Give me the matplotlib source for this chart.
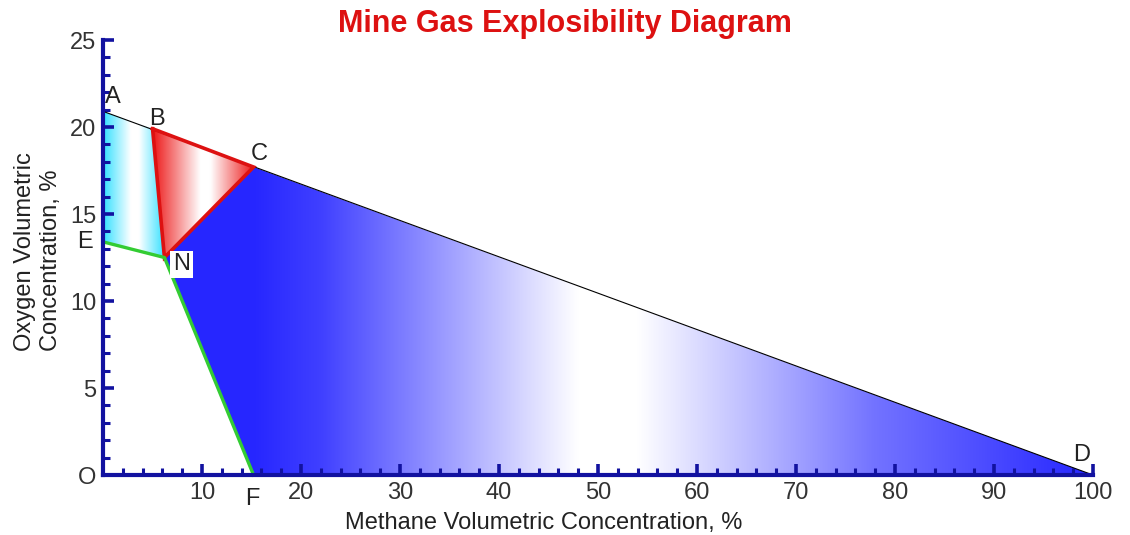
import matplotlib
matplotlib.use("Agg")
import matplotlib.pyplot as plt
import numpy as np
from matplotlib.patches import Polygon
from matplotlib.ticker import MultipleLocator

plt.rcParams['font.family'] = ['Liberation Sans', 'DejaVu Sans']

# key points of the diagram (methane %, oxygen %)
A = (0.0, 20.9)
B = (5.0, 19.9)
C = (15.2, 17.7)
D = (100.0, 0.0)
E = (0.0, 13.4)
N = (6.2, 12.5)
F = (15.2, 0.0)

x_ticks = [0, 10, 20, 30, 40, 50, 60, 70, 80, 90, 100]
x_ticklabels = ['', '10', '20', '30', '40', '50', '60', '70', '80', '90', '100']
y_ticks = [0, 5, 10, 15, 20, 25]
y_ticklabels = ['O', '5', '10', '15', '20', '25']

axis_col = '#1212a0'
fs = 17

fig = plt.figure(figsize=(11.3, 5.35), dpi=100)
ax = fig.add_axes([0.0912, 0.1121, 0.8761, 0.8131])
ax.set_xlim(0, 100)
ax.set_ylim(0, 25)


def gradient_fill(poly_pts, xs, cols, zorder=1):
    # horizontal colour gradient clipped to a polygon
    x0 = min(p[0] for p in poly_pts)
    x1 = max(p[0] for p in poly_pts)
    y0 = min(p[1] for p in poly_pts)
    y1 = max(p[1] for p in poly_pts)
    gx = np.linspace(x0, x1, 400)
    cols = np.array(cols, dtype=float)
    img = np.stack([np.interp(gx, xs, cols[:, k]) for k in range(3)], axis=-1)
    img = img[np.newaxis, :, :]
    im = ax.imshow(img, extent=[x0, x1, y0, y1], aspect='auto',
                   interpolation='bilinear', zorder=zorder, origin='lower')
    patch = Polygon(poly_pts, closed=True, transform=ax.transData,
                    facecolor='none', edgecolor='none')
    ax.add_patch(patch)
    im.set_clip_path(patch)


blue = (0.15, 0.15, 1.0)
white = (1.0, 1.0, 1.0)
gradient_fill([N, C, D, F],
              [15.2, 22, 48, 54, 78, 100],
              [blue, (0.25, 0.25, 1.0), white, white, (0.45, 0.45, 1.0), blue])

cyan = (0.2, 0.88, 1.0)
gradient_fill([A, B, N, E],
              [0, 2.8, 3.6, 6.2],
              [cyan, white, white, cyan])

red = (0.93, 0.1, 0.1)
gradient_fill([B, C, N],
              [5.0, 9.8, 10.8, 15.2],
              [red, white, white, red], zorder=2)

# lines
ax.plot([A[0], D[0]], [A[1], D[1]], color='black', lw=0.8, zorder=3)
ax.plot([B[0], C[0], N[0], B[0]], [B[1], C[1], N[1], B[1]],
        color='#dd1111', lw=2.6, zorder=4, solid_joinstyle='miter')
ax.plot([E[0], N[0], F[0]], [E[1], N[1], F[1]],
        color='#33cc33', lw=2.4, zorder=4, clip_on=False)

# point labels
lab_kw = dict(fontsize=fs, color='#222222', zorder=6)
ax.text(A[0] + 0.2, A[1] + 0.2, 'A', ha='left', va='bottom', **lab_kw)
ax.text(B[0] + 0.4, B[1] - 0.1, 'B', ha='center', va='bottom', **lab_kw)
ax.text(C[0] + 0.6, C[1] + 0.1, 'C', ha='center', va='bottom', **lab_kw)
ax.text(D[0] - 1.2, D[1] + 0.5, 'D', ha='center', va='bottom', **lab_kw)
ax.text(N[0] + 1.7, N[1] - 0.4, 'N', ha='center', va='center',
        bbox=dict(facecolor='white', edgecolor='none', pad=2), **lab_kw)
ax.annotate('E', xy=(0, E[1]), xytext=(-7, 0), textcoords='offset points',
            ha='right', va='center', fontsize=fs, color='#222222')
ax.annotate('F', xy=(F[0], 0), xytext=(-1, -9), textcoords='offset points',
            ha='center', va='top', fontsize=fs, color='#222222')

# axes styling
for side in ['top', 'right']:
    ax.spines[side].set_visible(False)
for side in ['left', 'bottom']:
    ax.spines[side].set_color(axis_col)
    ax.spines[side].set_linewidth(3)
    ax.spines[side].set_zorder(7)

ax.set_xticks(x_ticks)
ax.set_xticklabels(x_ticklabels)
ax.set_yticks(y_ticks)
ax.set_yticklabels(y_ticklabels)
ax.xaxis.set_minor_locator(MultipleLocator(2))
ax.yaxis.set_minor_locator(MultipleLocator(1))
ax.tick_params(which='major', direction='in', length=8, width=2.6,
               color=axis_col, labelsize=fs, labelcolor='#333333', pad=5)
ax.tick_params(which='minor', direction='in', length=5, width=2.2, color=axis_col)

ax.set_xlabel('Methane Volumetric Concentration, %', fontsize=fs,
              color='#222222')
ax.xaxis.set_label_coords(0.445, -0.085)
ax.set_ylabel('Oxygen Volumetric\nConcentration, %', fontsize=fs,
              color='#222222', linespacing=1.25, multialignment='left')
ax.yaxis.set_label_coords(-0.041, 0.514)

fig.text(0.5, 0.955, 'Mine Gas Explosibility Diagram', ha='center', va='center',
         fontsize=22, fontweight='bold', color='#dd1111')

fig.savefig('out.png', dpi=100)
